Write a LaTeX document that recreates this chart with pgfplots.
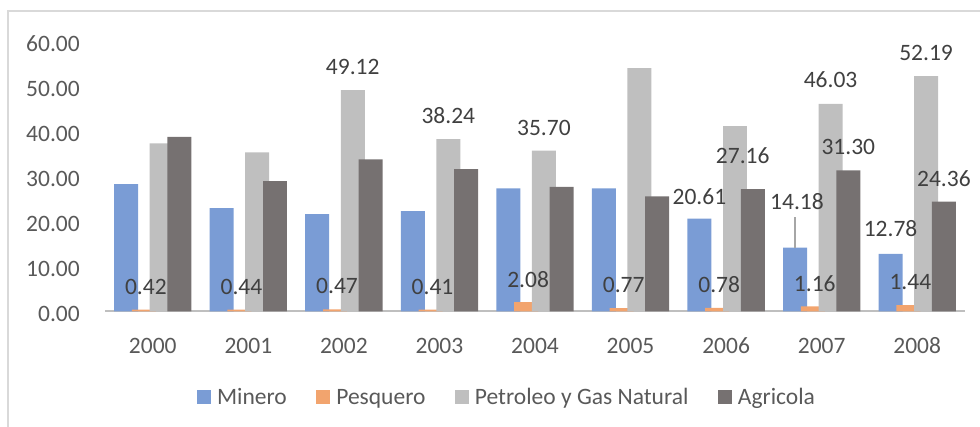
\documentclass[border=0pt]{standalone}
\usepackage{fontspec}
\setmainfont{Carlito}
\usepackage{pgfplots}
\pgfplotsset{compat=1.18}
\usepackage{pgfplotstable}
\definecolor{cMin}{HTML}{7A9CD5}
\definecolor{cPes}{HTML}{F2A46E}
\definecolor{cPet}{HTML}{BFBFBF}
\definecolor{cAgr}{HTML}{767171}
\definecolor{cTick}{HTML}{595959}
\definecolor{cLab}{HTML}{404040}
\definecolor{cFrame}{HTML}{D9D9D9}
\definecolor{cLead}{HTML}{A6A6A6}
\newcommand\cf{\fontsize{23.5}{28}\selectfont}

\pgfplotstableread{
x y lab dx dy
0 28.27 {} 0 22
1 22.95 {} 0 22
2 21.62 {} 0 22
3 22.28 {} 0 22
4 27.32 {} 0 22
5 27.32 {} 0 22
6 20.61 20.61 0 22
7 14.18 14.18 2 46
8 12.78 12.78 0 25
}\tMin
\pgfplotstableread{
x y lab dx dy
0 0.42 0.42 2 23
1 0.44 0.44 2 23
2 0.47 0.47 2 23
3 0.41 0.41 2 23
4 2.08 2.08 2 23
5 0.77 0.77 2 23
6 0.78 0.78 2 23
7 1.16 1.16 2 23
8 1.44 1.44 2 23
}\tPes
\pgfplotstableread{
x y lab dx dy
0 37.29 {} 0 23
1 35.30 {} 0 23
2 49.12 49.12 0 23
3 38.24 38.24 0 24
4 35.70 35.70 0 23
5 54.00 {} 0 23
6 41.13 {} 0 23
7 46.03 46.03 0 24
8 52.19 52.19 0 23
}\tPet
\pgfplotstableread{
x y lab dx dy
0 38.76 {} 0 23
1 28.94 {} 0 23
2 33.75 {} 0 23
3 31.60 {} 0 23
4 27.67 {} 0 23
5 25.54 {} 0 23
6 27.16 27.16 -10 33
7 31.30 31.30 0 23
8 24.36 24.36 0 23
}\tAgr

\begin{document}
\begin{tikzpicture}
\useasboundingbox (0,0) rectangle (980pt,427pt);
\begin{axis}[
  at={(105pt,115.5pt)}, anchor=south west,
  scale only axis, width=860pt, height=270.5pt,
  xmin=-0.5, xmax=8.5, ymin=0, ymax=60,
  clip=false,
  ybar, bar width=0.251,
  axis x line*=bottom, axis y line*=left,
  y axis line style={draw=none},
  x axis line style={draw=cPet, line width=2pt},
  tick style={draw=none},
  major tick length=0pt,
  xtick={0,1,2,3,4,5,6,7,8},
  xticklabels={2000,2001,2002,2003,2004,2005,2006,2007,2008},
  ytick={0,10,20,30,40,50,60},
  /pgf/number format/assume math mode=true,
  tick label style={font=\cf, color=cTick},
  yticklabel style={/pgf/number format/.cd, fixed, fixed zerofill, precision=2, /tikz/.cd, anchor=east, inner sep=0pt, xshift=-25pt, yshift=-2.7pt},
  xticklabel style={anchor=base, inner sep=0pt, yshift=-42.5pt},
  legend columns=4,
  legend cell align=left,
  legend image code/.code={\fill[#1] (0pt,-7pt) rectangle (14pt,7pt);},
  legend style={draw=none, fill=none, at={(0.4663,-0.316)}, anchor=center, font=\cf, text=cTick, inner sep=0pt,
    /tikz/every odd column/.append style={column sep=6pt},
    /tikz/every even column/.append style={column sep=29.5pt},
    nodes={inner sep=0pt, text height=14.5pt, text depth=0pt}},
  nodes near coords={\pgfplotspointmeta},
  point meta=explicit symbolic,
  visualization depends on={\thisrow{dx} \as \labdx},
  visualization depends on={\thisrow{dy} \as \labdy},
  every node near coord/.append style={anchor=center, inner sep=0pt, font=\cf, color=cLab, xshift=\labdx pt, yshift=\labdy pt},
]
\addplot[fill=cMin, draw=none, bar shift=-0.279] table[x=x, y=y, meta=lab]{\tMin};
\addplot[fill=cPes, draw=none, bar shift=-0.093] table[x=x, y=y, meta=lab]{\tPes};
\addplot[fill=cPet, draw=none, bar shift=0.093] table[x=x, y=y, meta=lab]{\tPet};
\addplot[fill=cAgr, draw=none, bar shift=0.279] table[x=x, y=y, meta=lab]{\tAgr};
\legend{Minero, Pesquero, Petroleo y Gas Natural, Agricola}
\draw[cLead, line width=2pt] (axis cs:6.721,14.18) -- (axis cs:6.721,20.9);
\end{axis}
\draw[cFrame, line width=1.2pt] (8pt,0pt) -- (8pt,416pt) -- (980pt,416pt);
\end{tikzpicture}
\end{document}
